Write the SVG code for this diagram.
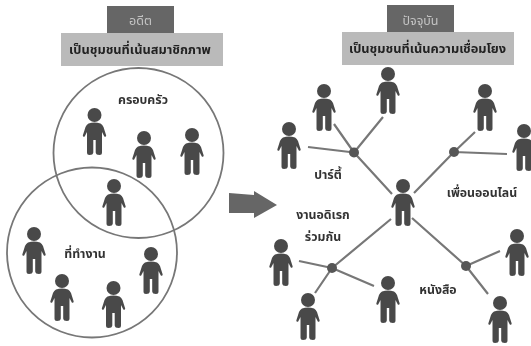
<svg xmlns="http://www.w3.org/2000/svg" width="531" height="346" viewBox="0 0 531 346">
<style>
text{font-family:"Noto Sans Thai","Noto Sans","Liberation Sans","DejaVu Sans",sans-serif;text-anchor:middle}
.h{font-size:12.800px;font-weight:700;fill:#222}
.l{font-size:12.300px;font-weight:700;fill:#333}
.t{font-size:12.500px;fill:#c4c4c4}
.ring{fill:none;stroke:#777;stroke-width:1.800}
.c{stroke:#777;stroke-width:2.200;fill:none}
.d{fill:#575757}
.dark{fill:#666}
.light{fill:#bababa}
</style>
<defs>
<filter id="b" x="-5%" y="-5%" width="110%" height="110%"><feGaussianBlur stdDeviation="0.5"/></filter>
<g id="p" fill="#4a4a4a">
<circle cx="0" cy="7" r="7"/>
<path d="M-6 15.500Q0 13.500 6 15.500Q8 16.500 9 19L11.700 27.500Q11.500 29.500 9.800 28.500L7.500 24V44.500Q7.500 47 5 47Q1.500 47 1.200 44.500V32H-1.200V44.500Q-1.500 47 -5 47Q-7.500 47 -7.500 44.500V24L-9.800 28.500Q-11.500 29.500 -11.700 27.500L-9 19Q-8 16.500 -6 15.500Z"/>
</g>
</defs>
<rect width="531" height="346" fill="#fff"/>
<g filter="url(#b)">
<g id="connectors">
<path class="c" d="M354 152.500L308 147M354 152.500L334 124M354 152.500L383 117M354 152.500L392 194"/>
<path class="c" d="M454 152L475 132M454 152L507 154M454 152L414 193"/>
<path class="c" d="M332 268L299 261M332 268L315 293M332 268L374 286M332 268L391 219"/>
<path class="c" d="M466 266L500 251M466 266L488 294M466 266L412 218"/>
</g>
<g id="rings">
<circle class="ring" cx="138.500" cy="153" r="85"/>
<circle class="ring" cx="92" cy="252.500" r="85"/>
</g>
<g id="header-past">
<rect class="dark" x="107" y="6" width="67" height="27"/>
<text class="t" x="140.500" y="25">อดีต</text>
<rect class="light" x="61" y="33" width="162" height="33"/>
<text class="h" x="140" y="54">เป็นชุมชนที่เน้นสมาชิกภาพ</text>
</g>
<g id="header-present">
<rect class="dark" x="387" y="5" width="67" height="27"/>
<text class="t" x="420.500" y="25">ปัจจุบัน</text>
<rect class="light" x="342" y="32" width="172" height="33"/>
<text class="h" x="427.500" y="53">เป็นชุมชนที่เน้นความเชื่อมโยง</text>
</g>
<g id="label-family"><text class="l" x="143" y="104">ครอบครัว</text></g>
<g id="label-work"><text class="l" x="85" y="258">ที่ทำงาน</text></g>
<g id="label-party"><text class="l" x="328" y="179">ปาร์ตี้</text></g>
<g id="label-online"><text class="l" x="482" y="197">เพื่อนออนไลน์</text></g>
<g id="label-hobby"><text class="l" x="323" y="219">งานอดิเรก</text><text class="l" x="323" y="241">ร่วมกัน</text></g>
<g id="label-book"><text class="l" x="438" y="294">หนังสือ</text></g>
<g id="arrow"><path fill="#666" d="M229 193L254 195V191L277 205L254 218V213L229 213Z"/></g>
<g id="hubs">
<circle class="d" cx="354" cy="152.500" r="5"/>
<circle class="d" cx="454" cy="152" r="5"/>
<circle class="d" cx="332" cy="268" r="5"/>
<circle class="d" cx="466" cy="266" r="5"/>
</g>
<g id="person-1"><use href="#p" x="94.500" y="108"/></g>
<g id="person-2"><use href="#p" x="144" y="131"/></g>
<g id="person-3"><use href="#p" x="192" y="128"/></g>
<g id="person-4"><use href="#p" x="114" y="179"/></g>
<g id="person-5"><use href="#p" x="34" y="227"/></g>
<g id="person-6"><use href="#p" x="62" y="274"/></g>
<g id="person-7"><use href="#p" x="113.500" y="281"/></g>
<g id="person-8"><use href="#p" x="151" y="247"/></g>
<g id="person-hub"><use href="#p" x="403" y="179"/></g>
<g id="person-r1"><use href="#p" x="388" y="67"/></g>
<g id="person-r2"><use href="#p" x="324" y="84"/></g>
<g id="person-r3"><use href="#p" x="289" y="122"/></g>
<g id="person-r4"><use href="#p" x="485" y="84"/></g>
<g id="person-r5"><use href="#p" x="524" y="124"/></g>
<g id="person-r6"><use href="#p" x="281" y="239"/></g>
<g id="person-r7"><use href="#p" x="308" y="293"/></g>
<g id="person-r8"><use href="#p" x="388" y="276"/></g>
<g id="person-r9"><use href="#p" x="517" y="229"/></g>
<g id="person-r10"><use href="#p" x="500" y="296"/></g>
</g>
</svg>
